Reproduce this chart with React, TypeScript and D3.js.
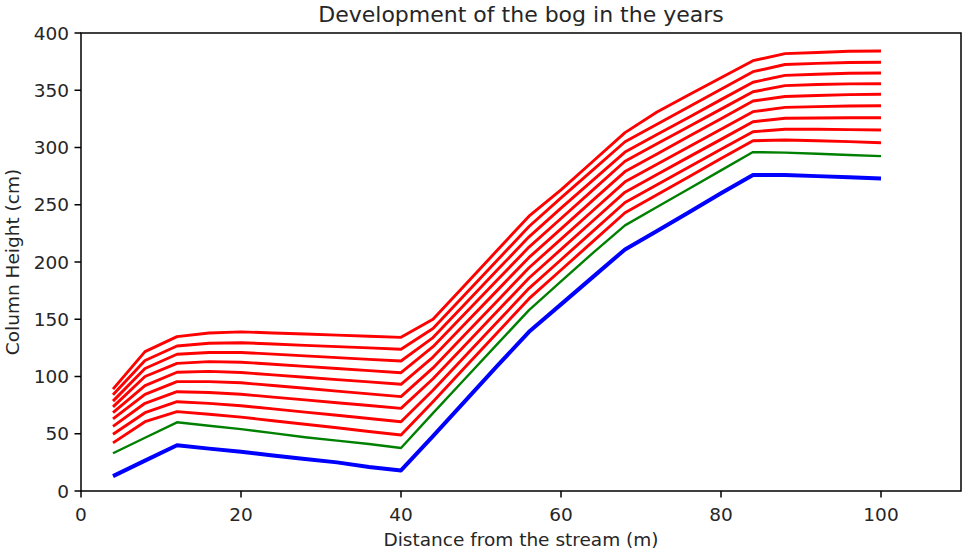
import React from "react";
import * as d3 from "d3";

const distances = [4, 8, 12, 16, 20, 24, 28, 32, 36, 40, 44, 48, 52, 56, 60, 64, 68, 72, 76, 80, 84, 88, 92, 96, 100];

const baseline = [13, 26.5, 40, 37, 34.3, 31, 28, 25, 21, 18, 48, 78.5, 109, 139, 163, 187, 211, 227, 243.5, 260, 276, 276, 275, 274, 273];

const firstYear = [33, 46.5, 60, 57, 54, 50.5, 47, 44, 41, 37.5, 68, 98, 128, 158, 183, 208, 232, 248, 264, 280, 296, 295.5, 294.5, 293.5, 292.5];

const year1 = [42, 60.5, 69.3, 67, 64.5, 61.4, 58.3, 55.2, 52, 48.9, 78, 108, 138, 168, 193, 218, 243, 258.8, 274.5, 290.3, 305.9, 306.5, 305.9, 305.1, 304.2];
const year2 = [49.5, 68.4, 78, 76.5, 74.5, 71.7, 68.9, 66.1, 63.3, 60.5, 88, 117.7, 147.3, 177, 202, 227, 252, 267.5, 282.9, 298.4, 313.8, 316, 315.9, 315.6, 315.3];
const year3 = [56.5, 76.6, 86.7, 86, 84.5, 82, 79.6, 77.1, 74.7, 72.2, 98, 127.3, 156.7, 186, 211, 236, 261, 276.4, 291.8, 307.1, 322.5, 325.5, 325.8, 326, 326];
const year4 = [63, 84.4, 95.5, 95.5, 94.5, 92.1, 89.7, 87.2, 84.8, 82.4, 107.5, 136.7, 165.8, 195, 220, 245, 270, 285.3, 300.7, 316, 331.3, 335, 335.7, 336.2, 336.5];
const year5 = [68.5, 92, 103.7, 104.5, 103.5, 101.4, 99.4, 97.3, 95.3, 93.2, 117, 146, 175, 204, 229, 254, 279, 294.4, 309.8, 325.2, 340.6, 344.5, 345.4, 346.2, 346.5];
const year6 = [73.5, 100, 111.5, 113, 112.5, 110.7, 108.8, 107, 105.1, 103.3, 126, 155, 184, 213, 238, 263, 288, 303.2, 318.4, 333.5, 348.7, 354, 355, 355.6, 355.7];
const year7 = [78.5, 107, 119.4, 121, 121, 119.5, 118, 116.5, 115, 113.5, 134, 163.3, 192.7, 222, 247, 271.5, 296, 311.3, 326.5, 341.8, 357, 363, 364, 364.8, 365.1];
const year8 = [84, 114, 126.6, 129, 129.5, 128.4, 127.2, 126.1, 125, 123.8, 142, 171.7, 201.3, 231, 256, 280.5, 305, 320.3, 335.6, 350.9, 366.2, 372.5, 373.5, 374.2, 374.4];
const year9 = [89, 121.7, 134.8, 138, 139, 138, 137.1, 136.1, 135.2, 134.2, 150, 180, 210, 240, 263, 288, 313, 331, 346, 361, 375.8, 382, 383, 384, 384.3];

const laterYears = [year1, year2, year3, year4, year5, year6, year7, year8, year9];

const xTicks = [0, 20, 40, 60, 80, 100];
const yTicks = [0, 50, 100, 150, 200, 250, 300, 350, 400];

const W = 964;
const H = 552;
const M = { left: 81, right: 961, top: 33, bottom: 491 };
const FONT = "DejaVu Sans, sans-serif";

export default function App() {
  const x = d3.scaleLinear().domain([0, 110]).range([M.left, M.right]);
  const y = d3.scaleLinear().domain([0, 400]).range([M.bottom, M.top]);
  const line = d3
    .line<number>()
    .x((_, i) => x(distances[i]))
    .y((d) => y(d));

  return (
    <svg
      width={W}
      height={H}
      style={{ position: "absolute", left: 0, top: 0, display: "block", background: "#fff" }}
      fontFamily={FONT}
    >
      <rect x={0} y={0} width={W} height={H} fill="#fff" />
      <path d={line(baseline) || ""} fill="none" stroke="#0000ff" strokeWidth={4} strokeLinejoin="round" />
      <path d={line(firstYear) || ""} fill="none" stroke="#008000" strokeWidth={2.4} strokeLinejoin="round" />
      {laterYears.map((s, i) => (
        <path key={i} d={line(s) || ""} fill="none" stroke="#ff0000" strokeWidth={2.9} strokeLinejoin="round" />
      ))}
      <rect
        x={M.left}
        y={M.top}
        width={M.right - M.left}
        height={M.bottom - M.top}
        fill="none"
        stroke="#000"
        strokeWidth={1.5}
      />
      {xTicks.map((t) => (
        <g key={"x" + t}>
          <line x1={x(t)} x2={x(t)} y1={M.bottom} y2={M.bottom + 6.5} stroke="#000" strokeWidth={1.5} />
          <text x={x(t)} y={520.5} textAnchor="middle" fontSize={18.5} fill="#262626">
            {t}
          </text>
        </g>
      ))}
      {yTicks.map((t) => (
        <g key={"y" + t}>
          <line x1={M.left - 6.5} x2={M.left} y1={y(t)} y2={y(t)} stroke="#000" strokeWidth={1.5} />
          <text x={M.left - 12} y={y(t)} dy="0.36em" textAnchor="end" fontSize={18.5} fill="#262626">
            {t}
          </text>
        </g>
      ))}
      <text x={(M.left + M.right) / 2} y={21.5} textAnchor="middle" fontSize={22} fill="#262626">
        Development of the bog in the years
      </text>
      <text x={(M.left + M.right) / 2} y={546} textAnchor="middle" fontSize={18.5} fill="#262626">
        Distance from the stream (m)
      </text>
      <text
        transform={`translate(19, ${(M.top + M.bottom) / 2}) rotate(-90)`}
        textAnchor="middle"
        fontSize={18.5}
        fill="#262626"
      >
        Column Height (cm)
      </text>
    </svg>
  );
}
